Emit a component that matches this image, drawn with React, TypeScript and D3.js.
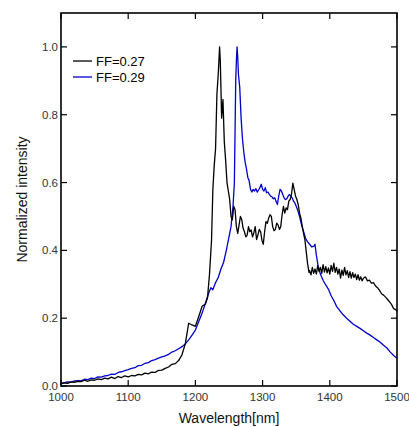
import React, { useEffect, useRef } from "react";
import * as d3 from "d3";

// FF=0.27 (black)
const wlBlack = [
  1000, 1005, 1010, 1015, 1020, 1025, 1030, 1035, 1040, 1045, 1050, 1055, 1060, 1065, 1070, 1075, 1080, 1085, 1090, 1095,
  1100, 1105, 1110, 1115, 1120, 1125, 1130, 1135, 1140, 1145, 1150, 1155, 1160, 1165, 1170, 1175, 1180, 1185, 1190, 1195,
  1200, 1205, 1210, 1215, 1218, 1221, 1224, 1226, 1228, 1230, 1232, 1234, 1236, 1237, 1238,
  1239, 1241, 1243, 1245, 1247, 1249, 1251, 1253, 1255, 1257, 1259, 1261, 1263, 1265, 1267, 1269, 1271, 1273, 1275, 1277,
  1279, 1281, 1283, 1285, 1287, 1289, 1291, 1293, 1295, 1297, 1299, 1301, 1303, 1305, 1307, 1309, 1311, 1313, 1315, 1317,
  1319, 1321, 1323, 1325, 1327, 1329, 1331, 1333, 1335, 1337, 1339, 1341, 1343, 1345, 1347, 1349, 1351, 1353, 1355, 1357,
  1359, 1361, 1363, 1365, 1367, 1369,
  1370, 1372, 1374, 1376, 1378, 1380, 1382, 1384, 1386, 1388, 1390, 1392, 1394, 1396, 1398, 1400, 1402, 1404, 1406, 1408,
  1410, 1412, 1414, 1416, 1418, 1420, 1422, 1424, 1426, 1428, 1430, 1432, 1434, 1436, 1438, 1440, 1442, 1444, 1446, 1448,
  1450, 1453, 1456, 1459, 1462, 1465, 1468, 1471, 1474, 1477, 1480, 1483, 1486, 1489, 1492, 1495, 1498, 1500,
];
const intBlack = [
  0.006, 0.009, 0.008, 0.012, 0.011, 0.014, 0.013, 0.017, 0.014, 0.018, 0.017, 0.021, 0.019, 0.023, 0.021, 0.026, 0.022, 0.028, 0.025, 0.030,
  0.027, 0.031, 0.030, 0.034, 0.033, 0.038, 0.036, 0.041, 0.040, 0.046, 0.047, 0.052, 0.056, 0.064, 0.066, 0.075, 0.092, 0.125, 0.185, 0.180,
  0.176, 0.205, 0.235, 0.242, 0.260, 0.330, 0.430, 0.580, 0.650, 0.700, 0.860, 0.920, 1.000, 0.960, 0.880,
  0.790, 0.845, 0.720, 0.665, 0.600, 0.575, 0.550, 0.500, 0.490, 0.530, 0.520, 0.470, 0.450, 0.475, 0.500, 0.490, 0.465, 0.455, 0.440, 0.445,
  0.470, 0.455, 0.460, 0.440, 0.452, 0.470, 0.432, 0.445, 0.462, 0.455, 0.430, 0.418, 0.455, 0.485, 0.480, 0.495, 0.505, 0.500, 0.470, 0.458,
  0.462, 0.480, 0.475, 0.462, 0.470, 0.505, 0.530, 0.510, 0.525, 0.520, 0.545, 0.550, 0.565, 0.598, 0.580, 0.560, 0.550, 0.535, 0.510, 0.495,
  0.470, 0.450, 0.430, 0.395, 0.360, 0.335,
  0.340, 0.328, 0.350, 0.332, 0.345, 0.330, 0.355, 0.338, 0.350, 0.332, 0.358, 0.336, 0.352, 0.334, 0.348, 0.330, 0.356, 0.338, 0.362, 0.335,
  0.350, 0.330, 0.345, 0.318, 0.342, 0.326, 0.350, 0.328, 0.340, 0.320, 0.337, 0.318, 0.334, 0.320, 0.330, 0.314, 0.328, 0.312, 0.322, 0.310,
  0.318, 0.322, 0.310, 0.312, 0.303, 0.305, 0.295, 0.290, 0.282, 0.272, 0.268, 0.262, 0.255, 0.248, 0.240, 0.228, 0.225, 0.220,
];

// FF=0.29 (blue)
const wlBlue = [
  1000, 1005, 1010, 1015, 1020, 1025, 1030, 1035, 1040, 1045, 1050, 1055, 1060, 1065, 1070, 1075, 1080, 1085, 1090, 1095,
  1100, 1105, 1110, 1115, 1120, 1125, 1130, 1135, 1140, 1145, 1150, 1155, 1160, 1165, 1170, 1175, 1180, 1185, 1190, 1195,
  1200, 1205, 1210, 1215, 1220, 1223, 1226, 1230, 1234, 1238, 1242, 1246, 1250, 1253, 1256, 1258, 1259, 1260,
  1261, 1262, 1263, 1264, 1266, 1268, 1270, 1272, 1274, 1276, 1278, 1280, 1282, 1284, 1286, 1288, 1290, 1292, 1294, 1296,
  1298, 1300, 1302, 1304, 1306, 1308, 1310, 1312, 1314, 1316, 1318, 1320, 1322, 1324, 1326, 1328, 1330, 1332, 1334, 1336,
  1338, 1340, 1342, 1344, 1346, 1348, 1350, 1352, 1355, 1358, 1361, 1364, 1367, 1370, 1373, 1376, 1378, 1380, 1383, 1386,
  1390, 1394, 1398, 1402, 1406, 1410, 1415, 1420, 1425, 1430, 1435, 1440, 1445, 1450, 1455, 1460, 1465, 1470, 1475, 1480,
  1485, 1490, 1495, 1500,
];
const intBlue = [
  0.008, 0.010, 0.012, 0.011, 0.015, 0.016, 0.015, 0.020, 0.019, 0.023, 0.022, 0.027, 0.026, 0.030, 0.031, 0.035, 0.034, 0.040, 0.042, 0.045,
  0.048, 0.052, 0.054, 0.060, 0.061, 0.067, 0.069, 0.075, 0.078, 0.082, 0.086, 0.089, 0.093, 0.100, 0.104, 0.110, 0.116, 0.124, 0.136, 0.150,
  0.165, 0.190, 0.215, 0.245, 0.275, 0.290, 0.284, 0.305, 0.320, 0.345, 0.365, 0.400, 0.440, 0.470, 0.530, 0.600, 0.750, 0.900,
  0.960, 1.000, 0.970, 0.920, 0.880, 0.790, 0.730, 0.690, 0.660, 0.640, 0.615, 0.605, 0.580, 0.572, 0.580, 0.575, 0.582, 0.572, 0.578, 0.585,
  0.595, 0.580, 0.575, 0.585, 0.570, 0.572, 0.565, 0.560, 0.558, 0.552, 0.555, 0.545, 0.535, 0.560, 0.580, 0.575, 0.565, 0.555, 0.550, 0.552,
  0.560, 0.565, 0.560, 0.555, 0.545, 0.540, 0.530, 0.520, 0.500, 0.475, 0.455, 0.435, 0.425, 0.418, 0.410, 0.412, 0.418, 0.385, 0.350, 0.330,
  0.312, 0.298, 0.285, 0.266, 0.252, 0.235, 0.222, 0.210, 0.200, 0.191, 0.182, 0.176, 0.170, 0.163, 0.156, 0.150, 0.143, 0.136, 0.129, 0.120,
  0.112, 0.100, 0.090, 0.082,
];

const xTicks = [1000, 1100, 1200, 1300, 1400, 1500];
const yTicks = [0, 0.2, 0.4, 0.6, 0.8, 1.0];
const seriesNames = ["FF=0.27", "FF=0.29"];
const seriesColors = ["#000000", "#0000cc"];

function Chart() {
  const ref = useRef(null);
  const width = 409;
  const height = 427;
  const marginTop = 13;
  const marginRight = 12;
  const marginBottom = 41;
  const marginLeft = 61;

  useEffect(() => {
    const svg = d3.select(ref.current);
    svg.selectAll("*").remove();

    const x = d3.scaleLinear([1000, 1500], [marginLeft, width - marginRight]);
    const y = d3.scaleLinear([0, 1.1], [height - marginBottom, marginTop]);
    const font = "'Liberation Sans', Arial, sans-serif";

    const g = svg.append("g");

    // curves
    const series = [
      wlBlack.map((w, i) => [w, intBlack[i]]),
      wlBlue.map((w, i) => [w, intBlue[i]]),
    ];
    const line = d3.line().x(d => x(d[0])).y(d => y(d[1]));
    // blue first, black on top
    [1, 0].forEach(k => {
      g.append("path")
        .attr("fill", "none")
        .attr("stroke", seriesColors[k])
        .attr("stroke-width", 1.3)
        .attr("stroke-linejoin", "round")
        .attr("d", line(series[k]));
    });

    // inward ticks on all four sides
    const tl = 6;
    const ticksG = g.append("g").attr("stroke", "#000").attr("stroke-width", 1.2);
    xTicks.forEach(t => {
      ticksG.append("line").attr("x1", x(t)).attr("x2", x(t)).attr("y1", y(0)).attr("y2", y(0) - tl);
      ticksG.append("line").attr("x1", x(t)).attr("x2", x(t)).attr("y1", marginTop).attr("y2", marginTop + tl);
    });
    yTicks.forEach(t => {
      ticksG.append("line").attr("x1", marginLeft).attr("x2", marginLeft + tl).attr("y1", y(t)).attr("y2", y(t));
      ticksG.append("line").attr("x1", width - marginRight).attr("x2", width - marginRight - tl).attr("y1", y(t)).attr("y2", y(t));
    });

    // frame
    g.append("rect")
      .attr("x", marginLeft)
      .attr("y", marginTop)
      .attr("width", width - marginLeft - marginRight)
      .attr("height", height - marginTop - marginBottom)
      .attr("fill", "none")
      .attr("stroke", "#000")
      .attr("stroke-width", 1.6);

    // tick labels
    g.selectAll(".xlab")
      .data(xTicks)
      .enter()
      .append("text")
      .attr("x", d => x(d))
      .attr("y", height - marginBottom + 15)
      .attr("text-anchor", "middle")
      .attr("font-family", font)
      .attr("font-size", 11.5)
      .attr("fill", "#333")
      .text(d => d);

    g.selectAll(".ylab")
      .data(yTicks)
      .enter()
      .append("text")
      .attr("x", marginLeft - 3)
      .attr("y", d => y(d) + 4)
      .attr("text-anchor", "end")
      .attr("font-family", font)
      .attr("font-size", 11.5)
      .attr("fill", "#333")
      .text(d => d3.format(".1f")(d));

    // axis titles
    g.append("text")
      .attr("x", (marginLeft + width - marginRight) / 2)
      .attr("y", 423)
      .attr("text-anchor", "middle")
      .attr("font-family", font)
      .attr("font-size", 14)
      .attr("fill", "#111")
      .text("Wavelength[nm]");

    g.append("text")
      .attr("transform", `translate(27,${(marginTop + height - marginBottom) / 2}) rotate(-90)`)
      .attr("text-anchor", "middle")
      .attr("font-family", font)
      .attr("font-size", 14)
      .attr("fill", "#111")
      .text("Normalized intensity");

    // legend
    seriesNames.forEach((name, i) => {
      const ly = 61 + i * 16;
      g.append("line")
        .attr("x1", 73).attr("x2", 92)
        .attr("y1", ly).attr("y2", ly)
        .attr("stroke", seriesColors[i])
        .attr("stroke-width", 1.3);
      g.append("text")
        .attr("x", 96)
        .attr("y", ly + 4.5)
        .attr("font-family", font)
        .attr("font-size", 13)
        .attr("fill", "#000")
        .text(name);
    });
  }, []);

  return (
    <svg
      ref={ref}
      width={width}
      height={height}
      style={{ position: "absolute", left: 0, top: 0, background: "#fff" }}
    />
  );
}

export default function App() {
  return <Chart />;
}
